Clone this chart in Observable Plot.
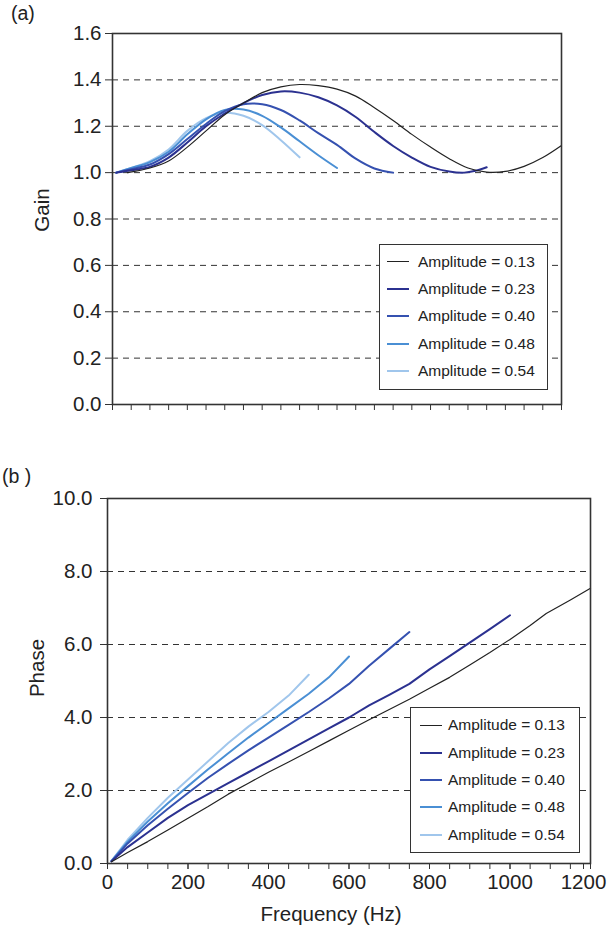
<!DOCTYPE html>
<html>
<head>
<meta charset="utf-8">
<script src="https://cdn.jsdelivr.net/npm/d3@7"></script>
<script src="https://cdn.jsdelivr.net/npm/@observablehq/plot@0.6"></script>
<style>
  html, body { margin: 0; padding: 0; background: #fff; overflow: hidden; }
  #wrap { position: relative; width: 610px; height: 933px; font-family: "Liberation Sans", Arial, sans-serif; color: #222; }
  #wrap svg { position: absolute; left: 0; }
  .panel { position: absolute; font-size: 19.5px; line-height: 1; }
  .legend { position: absolute; box-sizing: border-box; border: 1.5px solid #333; background: #fff; }
  .row { display: flex; align-items: center; height: 27.4px; font-size: 15.5px; white-space: nowrap; }
  .sw { display: inline-block; width: 22px; }
</style>
</head>
<body>
<div id="wrap"></div>
<script>
// ---- data ----
const amplitudes = ["0.13", "0.23", "0.40", "0.48", "0.54"];

// Gain (panel a)
const gainF_013 = [40,100,150,200,250,300,350,400,450,500,550,600,650,700,750,800,850,900,950,1000,1050,1100,1150,1200];
const gainV_013 = [1.0,1.02,1.05,1.11,1.18,1.25,1.30,1.345,1.37,1.38,1.375,1.36,1.33,1.28,1.225,1.165,1.11,1.06,1.02,1.002,1.005,1.027,1.065,1.117];
const gainF_023 = [10,50,100,150,200,250,300,350,400,450,500,550,600,650,700,750,800,850,900,940,970,1000];
const gainV_023 = [1.0,1.01,1.025,1.065,1.13,1.20,1.255,1.30,1.335,1.35,1.345,1.325,1.29,1.24,1.175,1.115,1.065,1.025,1.005,1.0,1.008,1.023];
const gainF_040 = [10,50,100,150,200,250,300,350,400,450,500,550,600,650,700,750];
const gainV_040 = [1.0,1.015,1.035,1.08,1.145,1.21,1.265,1.295,1.295,1.27,1.225,1.17,1.12,1.06,1.018,1.0];
const gainF_048 = [10,50,100,150,200,250,300,350,400,450,500,550,600];
const gainV_048 = [1.0,1.02,1.045,1.09,1.165,1.23,1.27,1.272,1.245,1.195,1.135,1.075,1.02];
const gainF_054 = [10,50,100,150,200,250,300,350,400,450,500];
const gainV_054 = [1.0,1.02,1.05,1.10,1.18,1.235,1.258,1.245,1.205,1.14,1.066];

// Phase (panel b)
const phaseF_013 = [10,50,100,150,200,250,300,350,400,450,500,550,600,650,700,750,800,850,900,950,1000,1050,1090,1150,1200];
const phaseV_013 = [0.05,0.30,0.60,0.92,1.24,1.56,1.90,2.20,2.50,2.78,3.07,3.36,3.65,3.94,4.22,4.50,4.80,5.10,5.44,5.78,6.14,6.52,6.85,7.22,7.54];
const phaseF_023 = [10,50,100,150,200,250,300,350,400,450,500,550,600,650,700,750,800,850,900,950,1000];
const phaseV_023 = [0.06,0.45,0.85,1.25,1.60,1.90,2.20,2.50,2.80,3.10,3.40,3.70,4.00,4.33,4.62,4.92,5.32,5.68,6.05,6.42,6.80];
const phaseF_040 = [10,50,100,150,200,250,300,350,400,450,500,550,600,650,700,750];
const phaseV_040 = [0.06,0.55,1.05,1.50,1.93,2.35,2.73,3.10,3.45,3.80,4.15,4.52,4.92,5.42,5.88,6.34];
const phaseF_048 = [10,50,100,150,200,250,300,350,400,450,500,550,600];
const phaseV_048 = [0.07,0.60,1.15,1.65,2.12,2.58,3.02,3.45,3.85,4.25,4.65,5.10,5.67];
const phaseF_054 = [10,50,100,150,200,250,300,350,400,450,500];
const phaseV_054 = [0.07,0.65,1.25,1.80,2.30,2.80,3.30,3.75,4.15,4.60,5.17];

// ticks
const xTickLabels = [0, 200, 400, 600, 800, 1000];
const xLastTick = [1200];
const xMinorTicks = d3.range(0, 1201, 50);
const gainTicks = [0, 0.2, 0.4, 0.6, 0.8, 1.0, 1.2, 1.4, 1.6];
const gainGrid = [0.2, 0.4, 0.6, 0.8, 1.0, 1.2, 1.4];
const phaseTicks = [0, 2, 4, 6, 8, 10];
const phaseGrid = [2, 4, 6, 8];

// ---- styles ----
const colors = ["#222222", "#2b3190", "#3551b0", "#4a8fd4", "#a0c6ec"];
const widths = [1.2, 2, 2, 2, 2];
const FONT = '"Liberation Sans", Arial, sans-serif';
const TICK_FS = 20.5;
const TITLE_FS = 20.5;

function build(fs, vs) {
  return amplitudes.map((a, i) => fs[i].map((f, j) => ({amp: a, f, v: vs[i][j]})));
}
const gainSeries = build([gainF_013, gainF_023, gainF_040, gainF_048, gainF_054],
                         [gainV_013, gainV_023, gainV_040, gainV_048, gainV_054]);
const phaseSeries = build([phaseF_013, phaseF_023, phaseF_040, phaseF_048, phaseF_054],
                          [phaseV_013, phaseV_023, phaseV_040, phaseV_048, phaseV_054]);

function lines(series, curve) {
  const order = [4, 3, 2, 1, 0];
  return order.map(i => Plot.line(series[i], {x: "f", y: "v", stroke: colors[i], strokeWidth: widths[i], curve}));
}

const wrap = document.getElementById("wrap");

// Panel (a)
const gainPlot = Plot.plot({
  width: 610, height: 430,
  marginLeft: 112, marginRight: 49, marginTop: 33, marginBottom: 26,
  style: {fontFamily: FONT, fontSize: TICK_FS + "px", color: "#222", background: "transparent"},
  x: {domain: [0, 1200]},
  y: {domain: [0, 1.6]},
  marks: [
    Plot.ruleY(gainGrid, {stroke: "#333", strokeWidth: 1, strokeDasharray: "6,5"}),
    ...lines(gainSeries, "catmull-rom"),
    Plot.axisX({ticks: xMinorTicks, tickSize: 6, tickFormat: () => "", label: null, stroke: "#333"}),
    Plot.axisY({ticks: gainTicks, tickSize: 7, tickPadding: 4, tickFormat: d => d.toFixed(1), label: null, stroke: "#333", fontSize: TICK_FS}),
    Plot.frame({stroke: "#333", strokeWidth: 1.6}),
    Plot.text(["Gain"], {frameAnchor: "left", textAnchor: "middle", lineAnchor: "middle", rotate: -90, dx: -70, dy: -9, fontSize: TITLE_FS, fill: "#222"})
  ]
});
gainPlot.style.top = "0px";
wrap.appendChild(gainPlot);

// Panel (b)
const phasePlot = Plot.plot({
  width: 610, height: 503,
  marginLeft: 107, marginRight: 20, marginTop: 68, marginBottom: 70,
  style: {fontFamily: FONT, fontSize: TICK_FS + "px", color: "#222", background: "transparent", overflow: "visible"},
  x: {domain: [0, 1200]},
  y: {domain: [0, 10]},
  marks: [
    Plot.ruleY(phaseGrid, {stroke: "#333", strokeWidth: 1, strokeDasharray: "6,5"}),
    ...lines(phaseSeries, "linear"),
    Plot.axisX({ticks: xMinorTicks, tickSize: 6, tickFormat: () => "", label: null, stroke: "#333"}),
    Plot.axisX({ticks: xTickLabels, tickSize: 6, tickPadding: 5, tickFormat: d => String(d), label: null, stroke: "#333", fontSize: TICK_FS}),
    Plot.axisX({ticks: xLastTick, tickSize: 6, tickPadding: 5, tickFormat: d => String(d), label: null, stroke: "#333", fontSize: TICK_FS, dx: -7}),
    Plot.axisY({ticks: phaseTicks, tickSize: 7, tickPadding: 8, tickFormat: d => d.toFixed(1), label: null, stroke: "#333", fontSize: TICK_FS}),
    Plot.frame({stroke: "#333", strokeWidth: 1.6}),
    Plot.text(["Phase"], {frameAnchor: "left", textAnchor: "middle", lineAnchor: "middle", rotate: -90, dx: -70, dy: -13, fontSize: TITLE_FS, fill: "#222"}),
    Plot.text(["Frequency (Hz)"], {frameAnchor: "bottom", textAnchor: "middle", lineAnchor: "middle", dx: -18, dy: 51, fontSize: TITLE_FS, fill: "#222"})
  ]
});
phasePlot.style.top = "430px";
wrap.appendChild(phasePlot);

// Panel labels
function panelLabel(txt, left, top) {
  const d = document.createElement("div");
  d.className = "panel";
  d.textContent = txt;
  d.style.left = left + "px";
  d.style.top = top + "px";
  wrap.appendChild(d);
}
panelLabel("(a)", 11, 4);
panelLabel("(b )", 2, 467);

// Legends
function legend(left, top, width, padTop, swLeft, gap) {
  const box = document.createElement("div");
  box.className = "legend";
  Object.assign(box.style, {left: left + "px", top: top + "px", width: width + "px", height: "146px", paddingTop: padTop + "px", paddingLeft: swLeft + "px"});
  amplitudes.forEach((a, i) => {
    const row = document.createElement("div");
    row.className = "row";
    const sw = document.createElement("span");
    sw.className = "sw";
    sw.style.borderTop = (i === 0 ? 1.6 : 2.4) + "px solid " + colors[i];
    sw.style.marginRight = gap + "px";
    const t = document.createElement("span");
    t.textContent = "Amplitude = " + a;
    row.appendChild(sw);
    row.appendChild(t);
    box.appendChild(row);
  });
  wrap.appendChild(box);
}
legend(379, 244, 169, 3, 7, 9);
legend(410, 707, 170, 3.5, 9, 6);
</script>
</body>
</html>
